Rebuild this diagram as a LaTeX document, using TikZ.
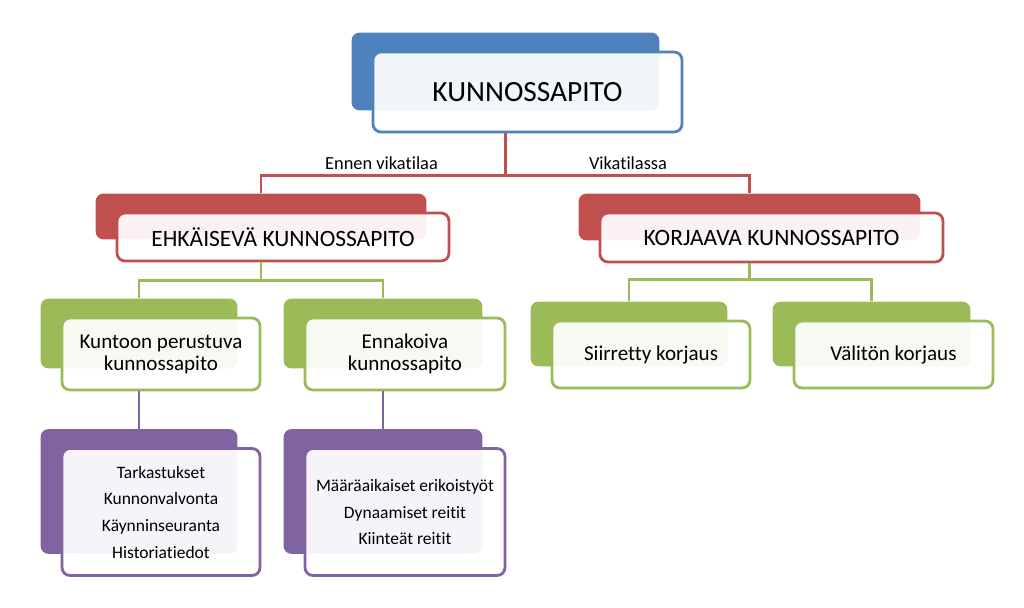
\documentclass[tikz,border=0pt]{standalone}
\usepackage{fontspec}
\setmainfont{Carlito}[Ligatures={NoCommon,NoRare,NoDiscretionary}]
\usetikzlibrary{positioning,calc,fit,backgrounds}
\definecolor{Blue}{HTML}{4F81BD}
\definecolor{Red}{HTML}{C0504D}
\definecolor{Green}{HTML}{9BBB59}
\definecolor{Purple}{HTML}{8064A2}
\tikzset{
  wh/.style 2 args={minimum width=#1*0.75pt,minimum height=#2*0.75pt},
  front/.style={draw=#1,rounded corners=6pt,fill=white,fill opacity=.93,text opacity=1,
    line width=2.1pt,align=center,inner sep=0pt},
  tab/.style={fill=#1,rounded corners=6pt,inner sep=0pt},
  link/.style={draw=#1,line width=2.1pt},
  lbl/.style={font=\fontsize{13.8}{16}\selectfont,inner sep=0pt}
}
% back tab behind a front box
\newcommand{\backtab}[3]{%
  \node[tab=#3,fit={($(#1.north west)+(-20,-18)$) ($(#1.south east)+(-24,-23)$)}] (#2) {};}

\begin{document}
\begin{tikzpicture}[x=0.75pt,y=-0.75pt]
  \useasboundingbox (0,0) rectangle (1024,607);
  % front boxes
  \node[front=Blue,wh={309}{80},font=\fontsize{22}{26}\selectfont] (top) at (527.5,92) {KUNNOSSAPITO};
  \node[front=Red,wh={332}{48},font=\fontsize{17.6}{20}\selectfont] (ehk) at (283,237) {EHKÄISEVÄ KUNNOSSAPITO};
  \node[front=Red,wh={343}{49},font=\fontsize{17.6}{20}\selectfont] (korj) at (771.5,237.5) {KORJAAVA KUNNOSSAPITO};
  \node[front=Green,wh={198}{72},font=\fontsize{15.8}{16.5}\selectfont] (kunto) at (161,354) {Kuntoon perustuva\\kunnossapito};
  \node[front=Green,wh={200}{72},font=\fontsize{15.8}{16.5}\selectfont] (ennak) at (405,354) {Ennakoiva\\kunnossapito};
  \node[front=Green,wh={198}{67},font=\fontsize{15.8}{16.5}\selectfont] (siirr) at (651,354.5) {Siirretty korjaus};
  \node[front=Green,wh={199}{67},font=\fontsize{15.8}{16.5}\selectfont] (valit) at (893.5,354.5) {Välitön korjaus};
  \node[front=Purple,wh={198}{127},font=\fontsize{13.1}{20}\selectfont] (tark) at (161,512)
    {Tarkastukset\\Kunnonvalvonta\\Käynninseuranta\\Historiatiedot};
  \node[front=Purple,wh={200}{127},font=\fontsize{13.1}{20}\selectfont] (maar) at (405,512)
    {Määräaikaiset erikoistyöt\\Dynaamiset reitit\\Kiinteät reitit};

  \begin{scope}[on background layer]
    \backtab{top}{topT}{Blue}
    \backtab{ehk}{ehkT}{Red}
    \backtab{korj}{korjT}{Red}
    \backtab{kunto}{kuntoT}{Green}
    \backtab{ennak}{ennakT}{Green}
    \backtab{siirr}{siirrT}{Green}
    \backtab{valit}{valitT}{Green}
    \backtab{tark}{tarkT}{Purple}
    \backtab{maar}{maarT}{Purple}
  \end{scope}

  % connectors
  \draw[link=Red] (top.south -| topT) -- ++(0,42) coordinate (rj);
  \draw[link=Red] (ehkT.north) |- (rj) -| (korjT.north);
  \draw[link=Green] (ehk.south -| ehkT) -- ++(0,18) coordinate (gl);
  \draw[link=Green] (kuntoT.north) |- (gl) -| (ennakT.north);
  \draw[link=Green] (korj.south -| korjT) -- ++(0,16) coordinate (gr);
  \draw[link=Green] (siirrT.north) |- (gr) -| (valitT.north);
  \draw[link=Purple] (kunto.south -| kuntoT) -- (tarkT.north);
  \draw[link=Purple] (ennak.south -| ennakT) -- (maarT.north);

  % labels
  \node[lbl] (ennen) at (381.5,163) {Ennen vikatilaa};
  \node[lbl] (vika) at (628,163) {Vikatilassa};
\end{tikzpicture}
\end{document}
